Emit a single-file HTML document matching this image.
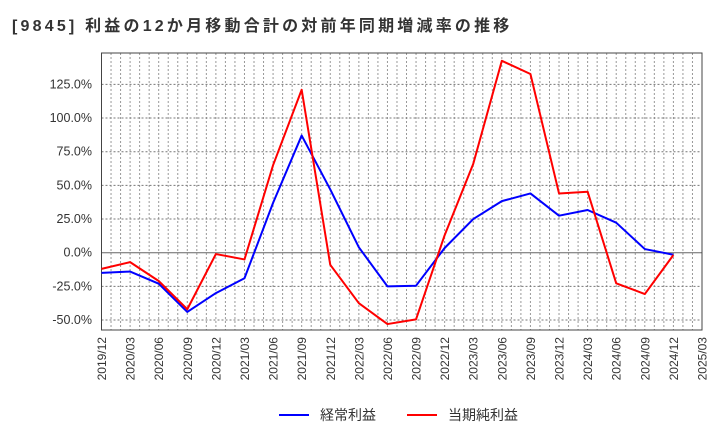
<!DOCTYPE html>
<html><head><meta charset="utf-8"><style>
body{margin:0;background:#fff;font-family:"Liberation Sans","Noto Sans CJK JP",sans-serif}
svg text{font-family:"Liberation Sans","Noto Sans CJK JP",sans-serif}
</style></head><body>
<svg id="c" width="720" height="440" xmlns="http://www.w3.org/2000/svg">
<text x="12" y="31" font-size="16" font-weight="bold" letter-spacing="3.2" fill="#333">[9845]  利益の12か月移動合計の対前年同期増減率の推移</text>
<g id="grid"></g><g id="axes"></g><g id="series"></g>
<g>
<line x1="279" y1="415" x2="309" y2="415" stroke="#0000ff" stroke-width="2"/>
<text x="320" y="420" font-size="14" fill="#333">経常利益</text>
<line x1="407" y1="415" x2="437" y2="415" stroke="#ff0000" stroke-width="2"/>
<text x="448" y="420" font-size="14" fill="#333">当期純利益</text>
</g>
</svg>
<script>
const categories=["2019/12","2020/03","2020/06","2020/09","2020/12","2021/03","2021/06","2021/09","2021/12","2022/03","2022/06","2022/09","2022/12","2023/03","2023/06","2023/09","2023/12","2024/03","2024/06","2024/09","2024/12","2025/03"];
const ordinaryValues=[-15,-14,-23,-44,-30,-19,37,87,47,4,-25,-24.5,3.5,25,38.3,44,27.5,31.7,22.3,2.7,-1.5];
const netValues=[-12,-7,-21,-42,-1,-5,65,121,-9,-37.5,-53,-49.5,13,66,142.5,132.7,44,45.3,-22.7,-30.7,-1.7];
const yTicks=[-50,-25,0,25,50,75,100,125];
const L=101.5,R=702,T=53,B=330,yMin=-57.4,yMax=148.3;
const NS="http://www.w3.org/2000/svg";
function xq(i){return L+i*(R-L)/(categories.length-1);}
function ys(v){return B-(v-yMin)/(yMax-yMin)*(B-T);}
function mk(t,a,p){const e=document.createElementNS(NS,t);for(const k in a)e.setAttribute(k,a[k]);p.appendChild(e);return e;}
const grid=document.getElementById('grid'),axes=document.getElementById('axes'),ser=document.getElementById('series');
for(let m=1;m<(categories.length-1)*3;m++){const x=L+m*(R-L)/((categories.length-1)*3);
const g=mk('line',{x1:x,x2:x,y1:T,y2:B,stroke:'#999','stroke-dasharray':'2,2','stroke-width':1},grid);

}
yTicks.forEach(v=>{const y=ys(v);
const g=mk('line',{x1:L,x2:R,y1:y,y2:y,stroke:v===0?'#666':'#777','stroke-dasharray':v===0?'':'2,2','stroke-width':1},grid);


const t=mk('text',{x:92,y:y+4,'font-size':12.5,fill:'#333','text-anchor':'end'},axes);t.textContent=v.toFixed(1)+'%';

});
categories.forEach((c,i)=>{const x=xq(i);
const t=mk('text',{x:0,y:0,'font-size':12,fill:'#333','text-anchor':'end',transform:`translate(${x+4.5},337) rotate(-90)`},axes);t.textContent=c;

});
const fr=mk('rect',{x:L,y:T,width:R-L,height:B-T,fill:'none',stroke:'#444','stroke-width':1},axes);


function line(vals,col,name){const p=mk('polyline',{points:vals.map((v,i)=>xq(i)+','+ys(v)).join(' '),fill:'none',stroke:col,'stroke-width':2,'stroke-linejoin':'round'},ser);

}
line(ordinaryValues,'#0000ff','ordinary-profit-line');
line(netValues,'#ff0000','net-profit-line');
</script>
</body></html>
